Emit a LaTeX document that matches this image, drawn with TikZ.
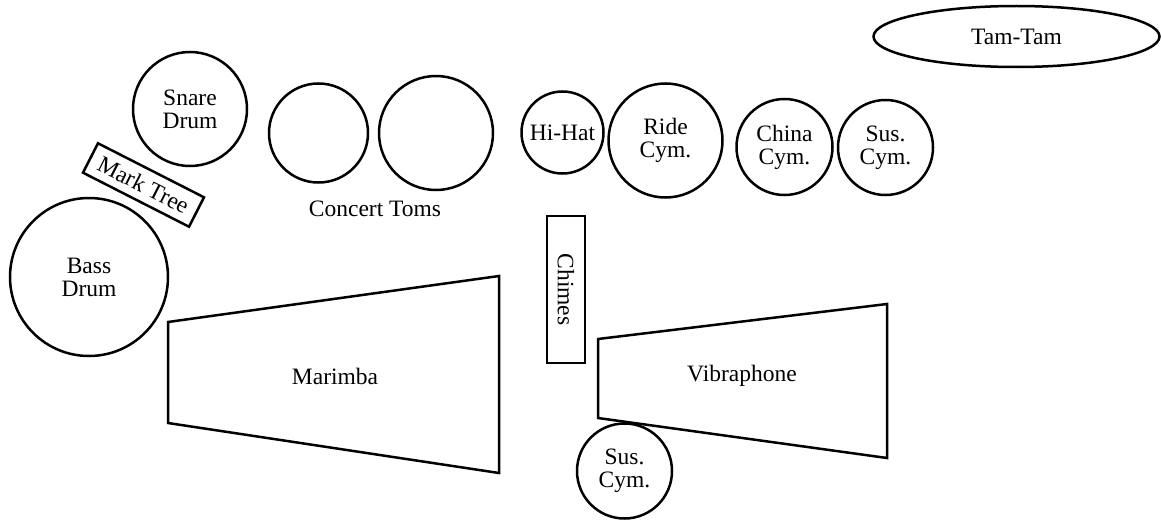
\documentclass[tikz,border=0pt]{standalone}
\usepackage{fontspec}
\setmainfont{Liberation Serif}
\usetikzlibrary{shapes.geometric}
\begin{document}
\begin{tikzpicture}[x=1pt,y=-1pt,
  lbl/.style={font=\fontsize{23.5}{23}\selectfont, align=center, inner sep=0pt},
  drum/.style={draw, circle, line width=2.5pt, inner sep=0pt, font=\fontsize{23.5}{23}\selectfont, align=center},
  boxed/.style={draw, rectangle, line width=2.5pt, inner sep=0pt, font=\fontsize{23.5}{23}\selectfont},
  outline/.style={draw, line width=2.5pt, line join=miter}]
\useasboundingbox (0,0) rectangle (1161,519);
% drums
\node[drum, minimum size=114pt] (snare) at (190,109) {Snare\\Drum};
\node[drum, minimum size=158pt] (bass) at (89,277) {Bass\\Drum};
\node[boxed, minimum width=119pt, minimum height=33pt, rotate=-27] (mark) at (143.5,185) {Mark Tree};
\node[drum, minimum size=99pt] (tom1) at (318.5,133) {};
\node[drum, minimum size=114pt] (tom2) at (436,133) {};
\node[lbl] (toms) at (375,209) {Concert Toms};
% cymbals
\node[drum, minimum size=82pt] (hihat) at (562.5,132.5) {Hi-Hat};
\node[drum, minimum size=114pt] (ride) at (665.5,140.5) {Ride\\Cym.};
\node[drum, minimum size=96pt] (china) at (784.5,147) {China\\Cym.};
\node[drum, minimum size=95pt] (sus1) at (885.5,147.5) {Sus.\\Cym.};
\node[draw, ellipse, line width=2.5pt, minimum width=286pt, minimum height=61pt, inner sep=0pt, font=\fontsize{23.5}{23}\selectfont] (tam) at (1016.5,36.5) {Tam-Tam};
% chimes
\node[boxed, minimum width=147pt, minimum height=38pt, rotate=-90] (chimes) at (566,289.5) {Chimes};
% marimba
\draw[outline] (168,322) -- (499,276) -- (499,473) -- (168,423) -- cycle;
\node[lbl] (marimba) at (335,376) {Marimba};
% vibraphone
\draw[outline] (598,339) -- (887,304) -- (887,458) -- (598,418) -- cycle;
\node[lbl] (vibe) at (742,376) {Vibraphone};
% bottom sus cym
\node[drum, minimum size=95pt] (sus2) at (624.5,471) {Sus.\\Cym.};
\end{tikzpicture}
\end{document}
